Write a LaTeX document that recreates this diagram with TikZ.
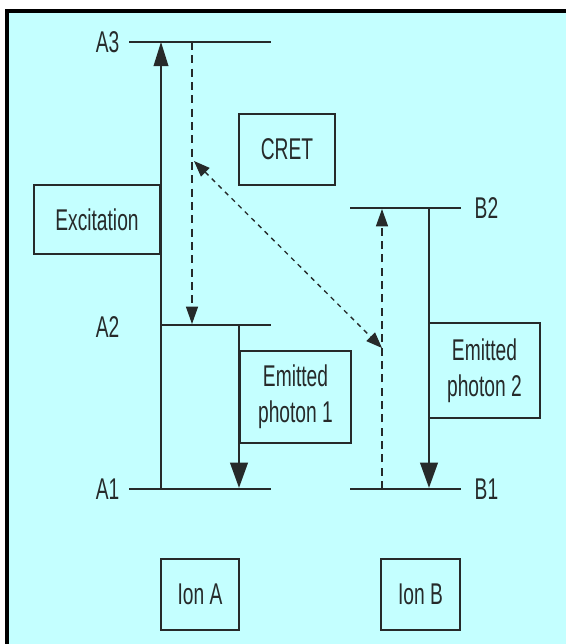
\documentclass[tikz,border=0pt]{standalone}
\usepackage{fontspec}
\setmainfont{Liberation Sans}[FakeStretch=0.64]
\usetikzlibrary{arrows.meta}
\definecolor{panelcyan}{RGB}{196,255,255}
\definecolor{ink}{RGB}{38,42,42}

\begin{document}
\begin{tikzpicture}[x=0.75pt,y=-0.75pt,
		every node/.style={font=\fontsize{22.5}{27}\selectfont, text=ink, align=center},
		labelbox/.style={draw=ink, line width=1.1pt, inner sep=0pt},
		levelline/.style={draw=ink, line width=1.6pt},
		pumparrow/.style={draw=ink, line width=1pt, -{Triangle[length=18pt,width=11pt]}},
		emitarrow/.style={draw=ink, line width=2.2pt, -{Triangle[length=19pt,width=13pt]}},
		relaxarrow/.style={draw=ink, line width=0.9pt, dash pattern=on 6pt off 4pt, -{Triangle[length=13pt,width=9pt]}},
		transfer/.style={draw=ink, line width=1pt, dash pattern=on 3.5pt off 3.5pt, {Triangle[length=12pt,width=9pt]}-{Triangle[length=12pt,width=9pt]}}]
		\useasboundingbox (0,0) rectangle (566,644);
		\fill[panelcyan] (8,12) rectangle (566,644);  % panel
		\draw[black, line width=2.4pt] (7,644) -- (7,11) -- (566,11);  % frame

		% ion A levels
		\coordinate (a3l) at (129,42);  \coordinate (a3r) at (271,42);
		\coordinate (a2l) at (161,325); \coordinate (a2r) at (271,325);
		\coordinate (a1l) at (129,489); \coordinate (a1r) at (271,489);
		\draw[levelline] (a3l) -- (a3r);  % A_3
		\draw[levelline] (a2l) -- (a2r);  % A_2
		\draw[levelline] (a1l) -- (a1r);  % A_1
		\node[anchor=east] (lA3) at (124,42) {A3};
		\node[anchor=east] (lA2) at (124,327) {A2};
		\node[anchor=east] (lA1) at (124,489) {A1};

		% ion B levels
		\coordinate (b2l) at (350,208); \coordinate (b2r) at (461,208);
		\coordinate (b1l) at (350,489); \coordinate (b1r) at (461,489);
		\draw[levelline] (b2l) -- (b2r);  % B_2
		\draw[levelline] (b1l) -- (b1r);  % B_1
		\node[anchor=west] (lB2) at (470,208) {B2};
		\node[anchor=west] (lB1) at (470,489) {B1};

		% transitions
		\coordinate (exc0) at (161,489); \coordinate (exc1) at (161,42);
		\coordinate (rel0) at (192,42);  \coordinate (rel1) at (192,324);
		\coordinate (em10) at (239,325); \coordinate (em11) at (239,488);
		\coordinate (up0) at (382,489);  \coordinate (up1) at (382,209);
		\coordinate (em20) at (429,208); \coordinate (em21) at (429,488);
		\coordinate (tr0) at (194,161);  \coordinate (tr1) at (382,348);
		\draw[pumparrow] (exc0) -- (exc1);  % excitation
		\draw[relaxarrow] (rel0) -- (rel1);  % A_3 -> A_2
		\draw[emitarrow] (em10) -- (em11);  % photon 1
		\draw[relaxarrow] (up0) -- (up1);  % B_1 -> B_2
		\draw[emitarrow] (em20) -- (em21);  % photon 2
		\draw[transfer] (tr0) -- (tr1);  % cross relaxation

		% labels
		\node[labelbox, minimum width=94.5pt, minimum height=52pt] (excit) at (97,219.5) {Excitation};
		\node[labelbox, minimum width=72pt, minimum height=53pt] (cret) at (287,149.5) {CRET};
		\node[labelbox, minimum width=83pt, minimum height=69pt] (photA) at (295.5,397) {Emitted\\photon 1};
		\node[labelbox, minimum width=83pt, minimum height=71pt] (photB) at (484.5,370.5) {Emitted\\photon 2};
		\node[labelbox, minimum width=58.5pt, minimum height=53pt] (ionA) at (200,594.5) {Ion A};
		\node[labelbox, minimum width=59pt, minimum height=53pt] (ionB) at (420.5,594.5) {Ion B};
	\end{tikzpicture}
\end{document}
